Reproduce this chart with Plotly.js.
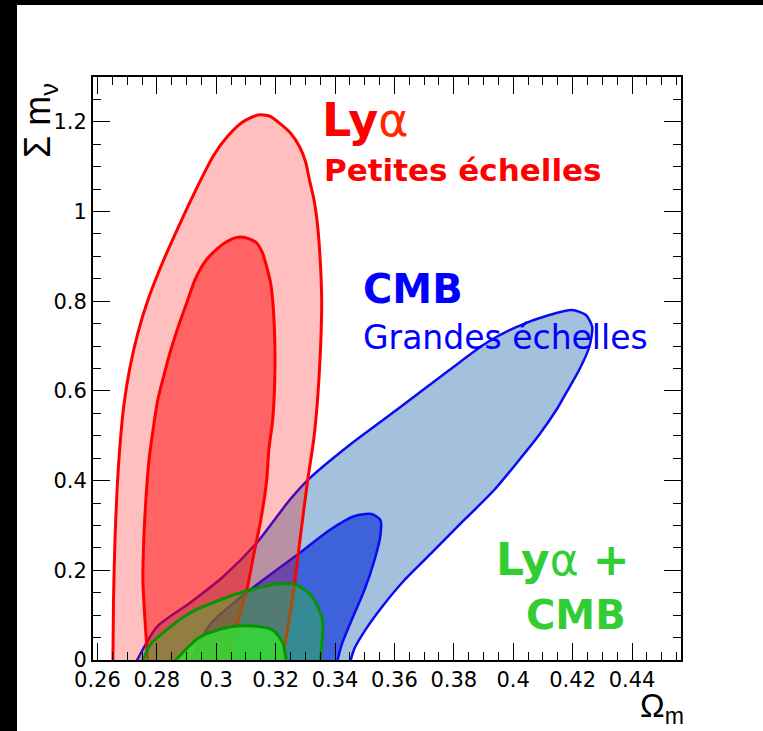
<!DOCTYPE html>
<html>
<head>
<meta charset="utf-8">
<script src="https://cdn.plot.ly/plotly-3.0.1.min.js"></script>
<style>
  html, body { margin: 0; padding: 0; background: #fff; }
  #wrap { position: relative; width: 763px; height: 731px; }
  #chart { position: absolute; left: 0; top: 0; width: 763px; height: 731px; }
  .bandL { position: absolute; left: 0; top: 0; width: 17px; height: 731px; background: #000; }
  .bandT { position: absolute; left: 0; top: 0; width: 763px; height: 5px; background: #000; }
</style>
</head>
<body>
<div id="wrap">
  <div id="chart"></div>
  <div class="bandL"></div>
  <div class="bandT"></div>
</div>
<script>
// ---- Data (Omega_m, sum m_nu) ----
const cmbOuterX = [0.2726, 0.2800, 0.2911, 0.3022, 0.3136, 0.3247, 0.3308, 0.3449, 0.3607, 0.3785, 0.3909, 0.4010, 0.4121, 0.4198, 0.4245, 0.4266, 0.4256, 0.4222, 0.4178, 0.4145, 0.4087, 0.4020, 0.3936, 0.3835, 0.3735, 0.3634, 0.3560, 0.3505, 0.3465, 0.3449];
const cmbOuterY = [-0.01, 0.0736, 0.1271, 0.1851, 0.2609, 0.3567, 0.4013, 0.4794, 0.5574, 0.6466, 0.7068, 0.7425, 0.7692, 0.7804, 0.7692, 0.7425, 0.6979, 0.6466, 0.5953, 0.5574, 0.5017, 0.4459, 0.3790, 0.3122, 0.2453, 0.1784, 0.1200, 0.0700, 0.0250, -0.01];

const cmbInnerX = [0.2911, 0.2978, 0.3079, 0.3180, 0.3281, 0.3382, 0.3466, 0.3523, 0.3553, 0.3553, 0.3533, 0.3499, 0.3456, 0.3422, 0.3405];
const cmbInnerY = [-0.01, 0.0780, 0.1382, 0.1895, 0.2386, 0.2899, 0.3211, 0.3255, 0.3122, 0.2787, 0.2230, 0.1561, 0.0892, 0.0334, -0.01];

const lyaOuterX = [0.2652, 0.2654, 0.2659, 0.2666, 0.2676, 0.2689, 0.2709, 0.2736, 0.2770, 0.2820, 0.2874, 0.2931, 0.2992, 0.3039, 0.3089, 0.3140, 0.3180, 0.3213, 0.3250, 0.3281, 0.3301, 0.3314, 0.3328, 0.3338, 0.3348, 0.3355, 0.3351, 0.3341, 0.3328, 0.3308, 0.3284, 0.3261, 0.3240, 0.3220];
const lyaOuterY = [-0.01, 0.1338, 0.2676, 0.3790, 0.4794, 0.5686, 0.6511, 0.7291, 0.8027, 0.8874, 0.9677, 1.0479, 1.1260, 1.1683, 1.1996, 1.2152, 1.2129, 1.1973, 1.1750, 1.1438, 1.1104, 1.0702, 1.0301, 0.9877, 0.9142, 0.8027, 0.6912, 0.5797, 0.4905, 0.4013, 0.2787, 0.1561, 0.0669, -0.01];

const lyaInnerX = [0.2770, 0.2760, 0.2753, 0.2756, 0.2763, 0.2773, 0.2787, 0.2803, 0.2824, 0.2847, 0.2874, 0.2904, 0.2928, 0.2961, 0.3002, 0.3039, 0.3079, 0.3113, 0.3136, 0.3156, 0.3170, 0.3183, 0.3190, 0.3197, 0.3197, 0.3190, 0.3177, 0.3170, 0.3150, 0.3126, 0.3103, 0.3069, 0.3035];
const lyaInnerY = [-0.01, 0.0892, 0.1784, 0.2676, 0.3567, 0.4415, 0.5128, 0.5797, 0.6355, 0.6912, 0.7469, 0.8027, 0.8473, 0.8874, 0.9164, 0.9342, 0.9431, 0.9387, 0.9298, 0.9075, 0.8763, 0.8406, 0.8027, 0.7135, 0.6243, 0.5351, 0.4682, 0.4013, 0.3122, 0.2341, 0.1561, 0.0780, -0.01];

const combOuterX = [0.2750, 0.2777, 0.2911, 0.3079, 0.3203, 0.3271, 0.3324, 0.3358, 0.3355, 0.3348];
const combOuterY = [-0.01, 0.0334, 0.1048, 0.1494, 0.1695, 0.1672, 0.1405, 0.0892, 0.0290, -0.01];

const combInnerX = [0.2850, 0.2945, 0.3045, 0.3123, 0.3190, 0.3224, 0.3237];
const combInnerY = [-0.01, 0.0513, 0.0736, 0.0758, 0.0669, 0.0379, -0.01];

const xTickVals = [0.26, 0.28, 0.30, 0.32, 0.34, 0.36, 0.38, 0.40, 0.42, 0.44];
const xTickText = ["0.26", "0.28", "0.3", "0.32", "0.34", "0.36", "0.38", "0.4", "0.42", "0.44"];
const yTickVals = [0, 0.2, 0.4, 0.6, 0.8, 1.0, 1.2];
const yTickText = ["0", "0.2", "0.4", "0.6", "0.8", "1", "1.2"];

function contour(x, y, fill, line, width) {
  return {
    type: 'scatter', mode: 'lines', x: x, y: y,
    fill: 'toself', fillcolor: fill,
    line: { color: line, width: width, shape: 'spline', smoothing: 0.7 },
    hoverinfo: 'skip', showlegend: false
  };
}

const traces = [
  contour(cmbOuterX, cmbOuterY, 'rgb(163,192,221)', 'rgb(10,10,245)', 2.5),
  contour(cmbInnerX, cmbInnerY, 'rgb(62,98,218)', 'rgb(10,10,245)', 2.5),
  contour(lyaOuterX, lyaOuterY, 'rgba(255,0,0,0.25)', 'rgb(255,0,0)', 3),
  contour(lyaInnerX, lyaInnerY, 'rgba(255,0,0,0.48)', 'rgb(255,0,0)', 3),
  contour(combOuterX, combOuterY, 'rgba(40,200,40,0.4)', 'rgba(0,150,0,0.95)', 3),
  contour(combInnerX, combInnerY, 'rgba(50,225,50,0.8)', 'rgba(0,150,0,0.95)', 3)
];

const tickFont = { family: 'DejaVu Sans, Verdana, sans-serif', size: 21, color: '#000' };
const labelFont = 'DejaVu Sans, Verdana, sans-serif';

const layout = {
  width: 763, height: 731,
  margin: { l: 93, r: 82, t: 77, b: 71, pad: 0 },
  paper_bgcolor: '#fff', plot_bgcolor: '#fff',
  showlegend: false,
  xaxis: {
    range: [0.2585, 0.4565], showgrid: false, zeroline: false,
    showline: true, linecolor: '#000', linewidth: 2, mirror: 'ticks',
    ticks: 'inside', ticklen: 17, tickwidth: 1, tickcolor: '#000',
    tickmode: 'array', tickvals: xTickVals, ticktext: xTickText,
    tickfont: tickFont,
    minor: { dtick: 0.005, tick0: 0.26, ticks: 'inside', ticklen: 8, tickwidth: 1, tickcolor: '#000', showgrid: false }
  },
  yaxis: {
    range: [0, 1.3], showgrid: false, zeroline: false,
    showline: true, linecolor: '#000', linewidth: 2, mirror: 'ticks',
    ticks: 'inside', ticklen: 17, tickwidth: 1, tickcolor: '#000',
    tickmode: 'array', tickvals: yTickVals, ticktext: yTickText,
    tickfont: tickFont,
    minor: { dtick: 0.05, tick0: 0, ticks: 'inside', ticklen: 8, tickwidth: 1, tickcolor: '#000', showgrid: false }
  },
  annotations: [
    { xref: 'x', yref: 'y', x: 0.3348, y: 1.204, xanchor: 'left', yanchor: 'middle', showarrow: false,
      text: '<b>Ly</b><span style="color:rgb(255,40,0)">α</span>', font: { family: labelFont, size: 46, color: 'rgb(255,0,0)' } },
    { xref: 'x', yref: 'y', x: 0.3355, y: 1.0925, xanchor: 'left', yanchor: 'middle', showarrow: false,
      text: '<b>Petites échelles</b>', font: { family: labelFont, size: 31, color: 'rgb(255,0,0)' } },
    { xref: 'x', yref: 'y', x: 0.3489, y: 0.8283, xanchor: 'left', yanchor: 'middle', showarrow: false,
      text: '<b>CMB</b>', font: { family: labelFont, size: 40, color: 'rgb(0,0,255)' } },
    { xref: 'x', yref: 'y', x: 0.3489, y: 0.719, xanchor: 'left', yanchor: 'middle', showarrow: false,
      text: 'Grandes échelles', font: { family: labelFont, size: 33, color: 'rgb(0,0,255)' } },
    { xref: 'x', yref: 'y', x: 0.3934, y: 0.223, xanchor: 'left', yanchor: 'middle', showarrow: false,
      text: '<b>Ly</b>α <b>+</b>', font: { family: labelFont, size: 44, color: 'rgb(50,205,50)' } },
    { xref: 'x', yref: 'y', x: 0.4037, y: 0.1003, xanchor: 'left', yanchor: 'middle', showarrow: false,
      text: '<b>CMB</b>', font: { family: labelFont, size: 40, color: 'rgb(50,205,50)' } },
    { xref: 'paper', yref: 'paper', x: -0.0901, y: 0.9245, xanchor: 'center', yanchor: 'middle', showarrow: false,
      textangle: -90, text: 'Σ m<sub>ν</sub>', font: { family: 'Liberation Sans, Arial, sans-serif', size: 36, color: '#000' } },
    { xref: 'paper', yref: 'paper', x: 1.0085, y: -0.043, xanchor: 'right', yanchor: 'top', showarrow: false,
      text: 'Ω<sub>m</sub>', font: { family: 'Liberation Sans, Arial, sans-serif', size: 33, color: '#000' } }
  ]
};

Plotly.newPlot('chart', traces, layout, { staticPlot: true, displayModeBar: false });
</script>
</body>
</html>
